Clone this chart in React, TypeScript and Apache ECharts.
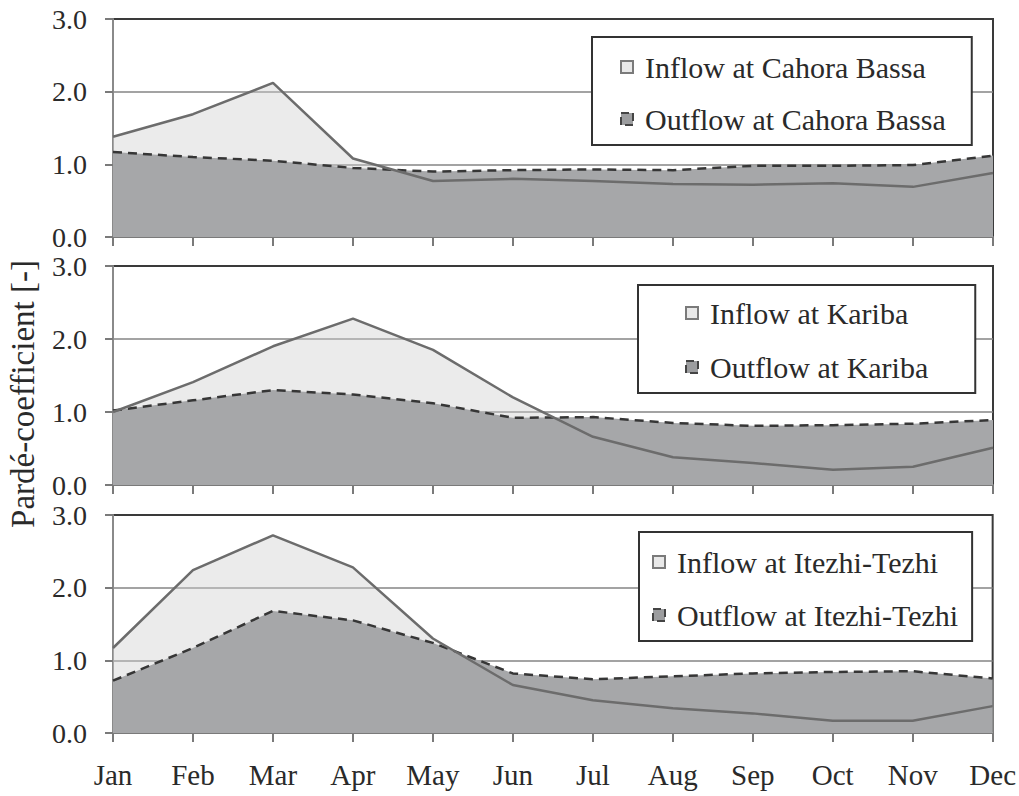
import React, { useEffect, useRef } from "react";
import * as echarts from "echarts";

const months = ["Jan", "Feb", "Mar", "Apr", "May", "Jun", "Jul", "Aug", "Sep", "Oct", "Nov", "Dec"];
const yTicks = [0, 1, 2, 3];

const cbInflow = [1.38, 1.69, 2.12, 1.08, 0.77, 0.8, 0.77, 0.73, 0.72, 0.74, 0.69, 0.88];
const cbOutflow = [1.17, 1.1, 1.05, 0.95, 0.9, 0.92, 0.93, 0.92, 0.98, 0.98, 0.99, 1.12];

const kInflow = [1.0, 1.41, 1.9, 2.28, 1.85, 1.2, 0.66, 0.38, 0.3, 0.21, 0.25, 0.51];
const kOutflow = [1.02, 1.16, 1.3, 1.24, 1.12, 0.92, 0.93, 0.85, 0.81, 0.82, 0.84, 0.89];

const itInflow = [1.17, 2.24, 2.72, 2.28, 1.3, 0.66, 0.45, 0.34, 0.27, 0.17, 0.17, 0.37];
const itOutflow = [0.72, 1.17, 1.68, 1.55, 1.24, 0.82, 0.74, 0.78, 0.82, 0.84, 0.85, 0.75];

const stations = ["Cahora Bassa", "Kariba", "Itezhi-Tezhi"];
const inflows = [cbInflow, kInflow, itInflow];
const outflows = [cbOutflow, kOutflow, itOutflow];

const FONT = "Liberation Serif";
const TXT = "#2a2a2a";

export default function App() {
  const ref = useRef<HTMLDivElement>(null);

  useEffect(() => {
    if (!ref.current) return;
    const chart = echarts.init(ref.current, null, { renderer: "svg" });

    const grids = [
      { left: 113, right: 26, top: 19, height: 218 },
      { left: 113, right: 26, top: 266, height: 219 },
      { left: 113, right: 26, top: 515, height: 218 },
    ];
    const legendPos = [
      { left: 592, top: 37, padding: [15, 26, 11, 28], itemGap: 22 },
      { left: 638, top: 285, padding: [13, 47, 11, 47], itemGap: 24 },
      { left: 639, top: 532, padding: [15, 14, 11, 13], itemGap: 23 },
    ];

    const xAxes = grids.map((_, i) => ({
      type: "category",
      gridIndex: i,
      data: months,
      boundaryGap: false,
      axisLine: { show: true, lineStyle: { color: "#7a7a7a", width: 2 } },
      axisTick: { show: true, length: 9, interval: 0, lineStyle: { color: "#7a7a7a", width: 2 } },
      axisLabel: {
        show: i === 2,
        interval: 0,
        margin: 27,
        fontFamily: FONT,
        fontSize: 29,
        color: TXT,
      },
      splitLine: { show: false },
    }));

    const yAxes = grids.map((_, i) => ({
      type: "value",
      gridIndex: i,
      min: yTicks[0],
      max: yTicks[yTicks.length - 1],
      interval: 1,
      axisLine: { show: true, lineStyle: { color: "#8a8a8a", width: 2 } },
      axisTick: { show: true, length: 8, lineStyle: { color: "#7a7a7a", width: 2 } },
      axisLabel: {
        margin: 26,
        fontFamily: FONT,
        fontSize: 28,
        lineHeight: 26,
        color: TXT,
        formatter: (v: number) => v.toFixed(1),
      },
      splitLine: { show: true, showMaxLine: false, lineStyle: { color: "#858585", width: 1.5 } },
    }));

    const series: any[] = [];
    const legends: any[] = [];
    stations.forEach((st, i) => {
      const inName = `Inflow at ${st}`;
      const outName = `Outflow at ${st}`;
      series.push({
        type: "line",
        name: inName,
        xAxisIndex: i,
        yAxisIndex: i,
        data: inflows[i],
        symbol: "none",
        lineStyle: { width: 0, color: "#6c6c6c" },
        itemStyle: { color: "#e6e6e6" },
        areaStyle: { color: "#cfcfcf", opacity: 0.42 },
        z: 2,
      });
      series.push({
        type: "line",
        name: outName,
        xAxisIndex: i,
        yAxisIndex: i,
        data: outflows[i],
        symbol: "none",
        lineStyle: { width: 2.5, color: "#363636", type: [9, 6] },
        itemStyle: { color: "#a6a7a9" },
        areaStyle: { color: "#a6a7a9", opacity: 1 },
        z: 3,
      });
      series.push({
        type: "line",
        name: inName,
        xAxisIndex: i,
        yAxisIndex: i,
        data: inflows[i],
        symbol: "none",
        lineStyle: { width: 2.5, color: "#6c6c6c" },
        itemStyle: { color: "#e6e6e6" },
        z: 4,
      });
      const lp = legendPos[i];
      legends.push({
        orient: "vertical",
        left: lp.left,
        top: lp.top,
        padding: lp.padding,
        itemGap: lp.itemGap,
        itemWidth: 12,
        itemHeight: 12,
        backgroundColor: "#ffffff",
        borderColor: "#333333",
        borderWidth: 2,
        selectedMode: false,
        textStyle: {
          fontFamily: FONT,
          fontSize: 30,
          color: TXT,
          lineHeight: 30,
          padding: [0, 0, 0, 7],
        },
        data: [
          {
            name: inName,
            icon: "rect",
            itemStyle: { color: "#e8e8e8", borderColor: "#7a7a7a", borderWidth: 2, borderType: "solid" },
          },
          {
            name: outName,
            icon: "rect",
            itemStyle: { color: "#9c9d9f", borderColor: "#444444", borderWidth: 2, borderType: "dashed" },
          },
        ],
      });
    });

    chart.setOption({
      animation: false,
      backgroundColor: "#ffffff",
      grid: grids.map((g) => ({
        ...g,
        show: true,
        borderColor: "#3a3a3a",
        borderWidth: 2,
        backgroundColor: "transparent",
      })),
      xAxis: xAxes,
      yAxis: yAxes,
      legend: legends,
      series,
      graphic: [
        {
          type: "text",
          x: 23,
          y: 394,
          rotation: Math.PI / 2,
          style: {
            text: "Pardé-coefficient [-]",
            fontFamily: FONT,
            fontSize: 33,
            fill: TXT,
            textAlign: "center",
            textVerticalAlign: "middle",
          },
        },
      ],
    });

    return () => chart.dispose();
  }, []);

  return (
    <div
      ref={ref}
      style={{ position: "fixed", left: 0, top: 0, width: 1019, height: 796, background: "#fff" }}
    />
  );
}
